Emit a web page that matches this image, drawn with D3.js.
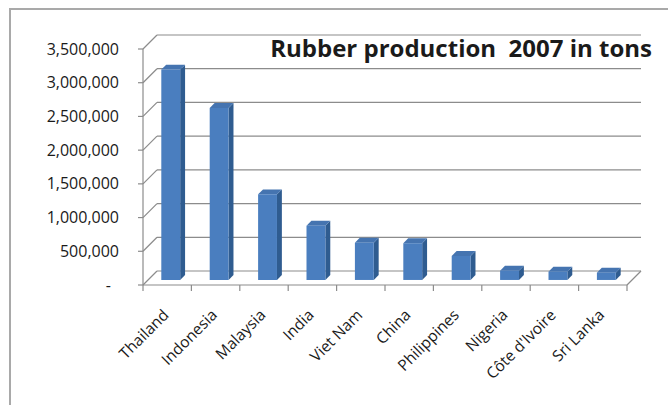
<!DOCTYPE html>
<html>
<head>
<meta charset="utf-8">
<script src="https://cdn.jsdelivr.net/npm/d3@7/dist/d3.min.js"></script>
<style>
  html, body { margin: 0; padding: 0; background: #ffffff; }
  svg { display: block; }
  text { font-family: "Open Sans", "Liberation Sans", sans-serif; fill: #1a1a1a; }
</style>
</head>
<body>
<script>
// Natural rubber production, 2007 (tons)
const categories = ["Thailand", "Indonesia", "Malaysia", "India", "Viet Nam",
                    "China", "Philippines", "Nigeria", "Côte d'Ivoire", "Sri Lanka"];
const production = [3120000, 2550000, 1270000, 805000, 552000,
                    545000, 355000, 138000, 123000, 108000];
const tickValues = [0, 500000, 1000000, 1500000, 2000000, 2500000, 3000000, 3500000];
const tickLabels = ["-", "500,000", "1,000,000", "1,500,000", "2,000,000",
                    "2,500,000", "3,000,000", "3,500,000"];
const titleText = "Rubber production  2007 in tons";

const W = 668, H = 405;
const svg = d3.select("body").append("svg").attr("width", W).attr("height", H);

// Front plane scales; depth is drawn as an oblique shift up and to the right
const x = d3.scaleBand().domain(categories).range([143, 627]);
const y = d3.scaleLinear().domain([0, 3500000]).range([285, 49]);
const DX = 14, DY = 14;
const proj = (px, v, z) => [px + z * DX, y(v) - z * DY];

const gridColor = "#8c8c8c";

// Outer chart frame
svg.append("path")
  .attr("d", `M10,${H + 2} V9 H${W + 2}`)
  .attr("fill", "none").attr("stroke", "#a9a9a9").attr("stroke-width", 2);

const walls = svg.append("g").attr("fill", "none").attr("stroke", gridColor).attr("stroke-width", 1.2);
const [xl, xr] = x.range();

// Back-wall gridlines
walls.selectAll("line.grid").data(tickValues).join("line")
  .attr("class", "grid")
  .attr("x1", d => proj(xl, d, 1)[0]).attr("y1", d => proj(xl, d, 1)[1])
  .attr("x2", d => proj(xr, d, 1)[0]).attr("y2", d => proj(xr, d, 1)[1]);

// Side-wall gridlines
walls.selectAll("line.side").data(tickValues).join("line")
  .attr("class", "side")
  .attr("x1", d => proj(xl, d, 0)[0]).attr("y1", d => proj(xl, d, 0)[1])
  .attr("x2", d => proj(xl, d, 1)[0]).attr("y2", d => proj(xl, d, 1)[1]);

// Value axis line and ticks
walls.append("line")
  .attr("x1", xl).attr("x2", xl).attr("y1", y(0)).attr("y2", y(3500000));
walls.selectAll("line.vtick").data(tickValues).join("line")
  .attr("class", "vtick")
  .attr("x1", xl - 5).attr("x2", xl).attr("y1", d => y(d)).attr("y2", d => y(d));

// Floor: front edge and right edge
walls.append("line")
  .attr("x1", xl).attr("x2", xr).attr("y1", y(0)).attr("y2", y(0));
walls.append("line")
  .attr("x1", proj(xr, 0, 0)[0]).attr("y1", proj(xr, 0, 0)[1])
  .attr("x2", proj(xr, 0, 1)[0]).attr("y2", proj(xr, 0, 1)[1]);

// Category ticks at band boundaries
const bounds = categories.map(c => x(c)).concat([xr]);
walls.selectAll("line.ctick").data(bounds).join("line")
  .attr("class", "ctick")
  .attr("x1", d => d).attr("x2", d => d).attr("y1", y(0)).attr("y2", y(0) + 6);

// Value axis labels
svg.append("g").selectAll("text").data(tickValues).join("text")
  .attr("x", (d, i) => i === 0 ? 111 : 119)
  .attr("y", d => y(d) + 5.5)
  .attr("text-anchor", "end")
  .style("font-size", "16px")
  .text((d, i) => tickLabels[i]);

// Category labels, rotated
svg.append("g").selectAll("text").data(categories).join("text")
  .attr("transform", d => `translate(${x(d) + x.bandwidth() / 2 + 2.5},316) rotate(-45)`)
  .attr("text-anchor", "end")
  .style("font-size", "15.5px")
  .text(d => d);

// 3D columns
const z1 = 0.36, z2 = 0.71;
const bw = x.bandwidth() * 0.39;
const poly = pts => "M" + pts.map(p => p.join(",")).join("L") + "Z";
const bars = svg.append("g").selectAll("g").data(categories).join("g");
bars.each(function (c, i) {
  const v = production[i];
  const x0 = x(c) + (x.bandwidth() - bw) / 2 - 1.5, x1 = x0 + bw;
  const g = d3.select(this);
  g.append("path").attr("fill", "#2f5c90")
    .attr("d", poly([proj(x1, 0, z1), proj(x1, 0, z2), proj(x1, v, z2), proj(x1, v, z1)]));
  g.append("path").attr("fill", "#4574b0")
    .attr("d", poly([proj(x0, v, z1), proj(x1, v, z1), proj(x1, v, z2), proj(x0, v, z2)]));
  g.append("path").attr("fill", "#4a7ebf")
    .attr("d", poly([proj(x0, 0, z1), proj(x1, 0, z1), proj(x1, v, z1), proj(x0, v, z1)]));
});

// Title
svg.append("text")
  .attr("x", 652).attr("y", 57)
  .attr("text-anchor", "end")
  .style("font-size", "24px").style("font-weight", "bold")
  .style("white-space", "pre")
  .text(titleText);
</script>
</body>
</html>
